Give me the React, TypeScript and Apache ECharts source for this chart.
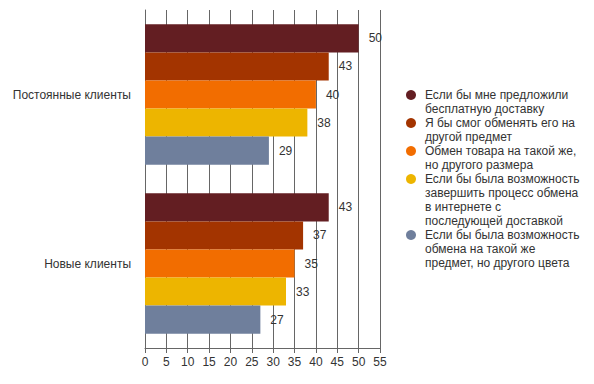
import React, { useEffect, useRef } from "react";
import * as echarts from "echarts";

const categories = ["Постоянные клиенты", "Новые клиенты"];
const seriesNames = [
  "Если бы мне предложили\nбесплатную доставку",
  "Я бы смог обменять его на\nдругой предмет",
  "Обмен товара на такой же,\nно другого размера",
  "Если бы была возможность\nзавершить процесс обмена\nв интернете с\nпоследующей доставкой",
  "Если бы была возможность\nобмена на такой же\nпредмет, но другого цвета",
];
const seriesValues = [
  [50, 43],
  [43, 37],
  [40, 35],
  [38, 33],
  [29, 27],
];
const colors = ["#631E22", "#A33400", "#F26D00", "#EDB500", "#6F7F9C"];
const xTicks = { min: 0, max: 55, interval: 5 };

export default function App() {
  const ref = useRef<HTMLDivElement>(null);
  useEffect(() => {
    document.body.style.margin = "0";
    if (!ref.current) return;
    const chart = echarts.init(ref.current, undefined, { renderer: "svg" });
    const font = "'Liberation Sans', Arial, sans-serif";
    const legendGraphics: any[] = [];
    let y = 95;
    seriesNames.forEach((name, i) => {
      legendGraphics.push({
        type: "circle",
        shape: { cx: 411, cy: y, r: 5 },
        style: { fill: colors[i] },
      });
      legendGraphics.push({
        type: "text",
        x: 425,
        y: y - 7,
        style: {
          text: name,
          fill: "#333",
          font: `12px ${font}`,
          lineHeight: 14,
          verticalAlign: "top",
        },
      });
      y += name.split("\n").length * 14;
    });
    chart.setOption({
      animation: false,
      textStyle: { fontFamily: font },
      grid: { left: 145, right: 214, top: 10, bottom: 36 },
      xAxis: {
        type: "value",
        min: xTicks.min,
        max: xTicks.max,
        interval: xTicks.interval,
        axisLine: { show: true, lineStyle: { color: "#666" } },
        axisTick: { show: true, length: 5, lineStyle: { color: "#666" } },
        axisLabel: { color: "#333", fontSize: 12, margin: 8 },
        splitLine: { show: true, lineStyle: { color: "#666" } },
      },
      yAxis: {
        type: "category",
        data: categories,
        inverse: true,
        axisLine: { show: true, lineStyle: { color: "#666" } },
        axisTick: { show: false },
        axisLabel: { color: "#333", fontSize: 12, margin: 14 },
      },
      series: seriesNames.map((name, i) => ({
        type: "bar",
        name,
        data: seriesValues[i],
        itemStyle: { color: colors[i] },
        barGap: "0%",
        barCategoryGap: "17%",
        label: {
          show: true,
          position: "right",
          distance: 10,
          color: "#333",
          fontSize: 12,
        },
      })),
      graphic: legendGraphics,
    });
    return () => chart.dispose();
  }, []);
  return <div ref={ref} style={{ width: 594, height: 384 }} />;
}
